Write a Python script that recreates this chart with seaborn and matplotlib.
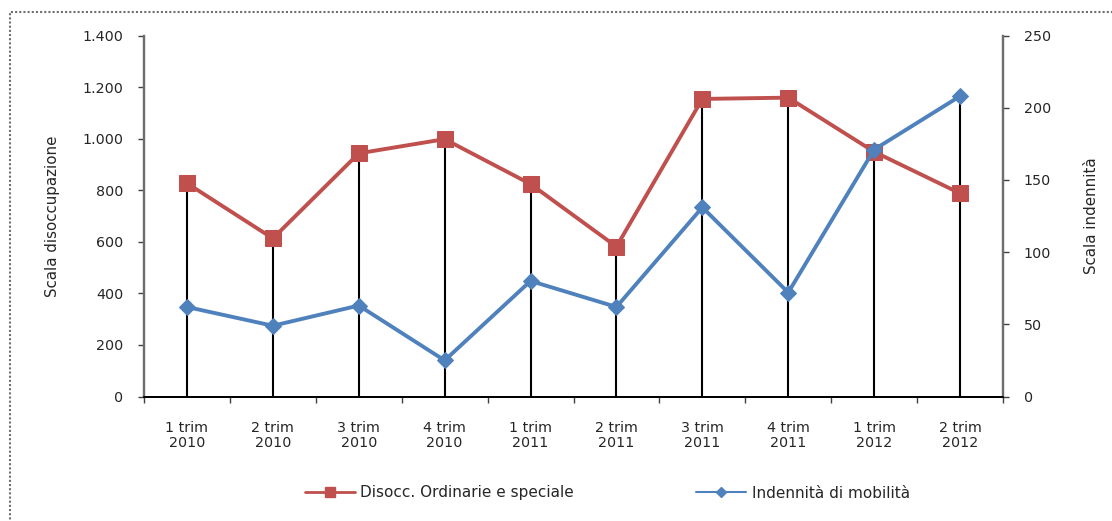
import matplotlib
matplotlib.use("Agg")
import matplotlib.pyplot as plt
from matplotlib.patches import Rectangle
from matplotlib.lines import Line2D
from matplotlib.ticker import FixedLocator, FuncFormatter
import numpy as np
import pandas as pd
import seaborn as sns

# Quarterly data
periods = ["1 trim\n2010", "2 trim\n2010", "3 trim\n2010", "4 trim\n2010",
           "1 trim\n2011", "2 trim\n2011", "3 trim\n2011", "4 trim\n2011",
           "1 trim\n2012", "2 trim\n2012"]
disoccupazione = [827, 613, 943, 998, 824, 581, 1154, 1159, 949, 788]
indennita = [62, 49, 63, 25, 80, 62, 131, 72, 171, 208]

left_ticks = [0, 200, 400, 600, 800, 1000, 1200, 1400]
right_ticks = [0, 50, 100, 150, 200, 250]

red = "#C0504D"
blue = "#4F81BD"
FS = 10.3

sns.set_theme(style="white")
plt.rcParams["font.family"] = ["DejaVu Sans"]

df = pd.DataFrame({"pos": np.arange(len(periods)),
                   "disoc": disoccupazione,
                   "inden": indennita})

W, H = 1112, 521
fig = plt.figure(figsize=(W / 100, H / 100), dpi=100)
ax = fig.add_axes([144 / W, (H - 396.5) / H, (1003 - 144) / W, 361 / H])
ax2 = ax.twinx()

ymax_l, ymax_r = 1400, 250

# High-low lines: from zero up to the higher of the two markers
scale = ymax_l / ymax_r
tops = np.maximum(df["disoc"], df["inden"] * scale)
ax.vlines(df["pos"], 0, tops, color="black", lw=1.5, zorder=1)

sns.lineplot(data=df, x="pos", y="disoc", ax=ax, color=red, lw=2.8,
             marker="s", markersize=11, markeredgecolor=red, sort=False,
             zorder=3)
sns.lineplot(data=df, x="pos", y="inden", ax=ax2, color=blue, lw=2.8,
             marker="D", markersize=8, markeredgecolor=blue, sort=False,
             zorder=3)

ax.set_xlim(-0.5, len(periods) - 0.5)
ax.set_ylim(0, ymax_l)
ax2.set_ylim(0, ymax_r)

fmt = FuncFormatter(lambda v, p: f"{int(v):,}".replace(",", "."))
ax.yaxis.set_major_locator(FixedLocator(left_ticks))
ax.yaxis.set_major_formatter(fmt)
ax2.yaxis.set_major_locator(FixedLocator(right_ticks))

ax.set_xticks(df["pos"])
ax.set_xticklabels(periods, fontsize=FS, linespacing=1.05)
ax.set_xticks(np.arange(-0.5, len(periods), 1.0), minor=True)
ax.tick_params(axis="x", which="major", length=0, pad=18)
ax.tick_params(axis="x", which="minor", length=4, width=1, color="#404040",
               direction="out", bottom=True)
ax.tick_params(axis="y", labelsize=FS, length=4, width=1, color="#404040",
               direction="out", left=True, pad=11)
ax2.tick_params(axis="y", labelsize=FS, length=4, width=1, color="#404040",
                direction="out", right=True, pad=11)

for a in (ax, ax2):
    a.set_xlabel("")
    a.set_ylabel("")
    a.spines["top"].set_visible(False)
    a.spines["left"].set_color("#6e6e6e")
    a.spines["right"].set_color("#6e6e6e")
    a.spines["left"].set_linewidth(1.6)
    a.spines["right"].set_linewidth(1.6)
    a.spines["bottom"].set_color("black")
    a.spines["bottom"].set_linewidth(1.3)

ax.set_ylabel("Scala disoccupazione", fontsize=10.8)
ax.yaxis.set_label_coords(-(144 - 60) / (1003 - 144), 0.5)
ax2.set_ylabel("Scala indennità", fontsize=10.8, rotation=90)
ax2.yaxis.set_label_coords((1084 - 144) / (1003 - 144), 0.5)

handles = [Line2D([], [], color=red, lw=2, marker="s", markersize=7),
           Line2D([], [], color=blue, lw=1.5, marker="D", markersize=5)]
fig.legend(handles, ["Disocc. Ordinarie e speciale", "Indennità di mobilità"],
           loc="center", bbox_to_anchor=(0.546, 1 - 493 / H), ncol=2,
           frameon=False, fontsize=11, handlelength=3.3, handletextpad=0.33,
           columnspacing=8.0)

# Dotted outer frame
fig.patches.append(Rectangle((10 / W, -0.05), 1.2, (H - 12) / H + 0.05,
                             transform=fig.transFigure, fill=False,
                             edgecolor="#707070", lw=1.5, ls=(0, (1, 1))))

fig.savefig("out.png", dpi=100)
